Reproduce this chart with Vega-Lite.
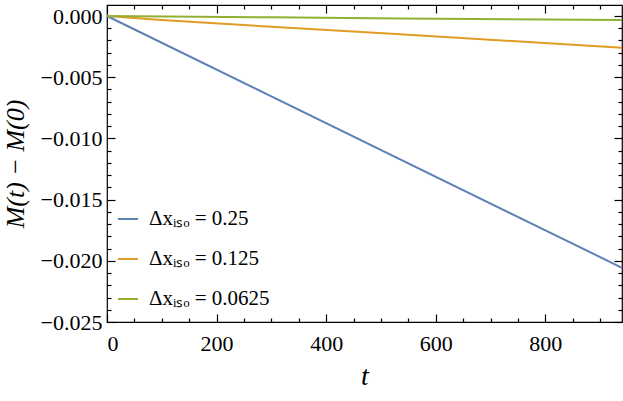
{
  "$schema": "https://vega.github.io/schema/vega-lite/v6.json",
  "width": 515,
  "height": 317,
  "autosize": {"type": "none"},
  "padding": {"left": 107, "top": 5, "right": 1, "bottom": 79},
  "background": "white",
  "config": {
    "view": {"stroke": "black", "strokeWidth": 1.2}
  },
  "data": {
    "values": [
      {"t": 0, "dm": 0, "s": "Δxᵢₛₒ = 0.25"},
      {"t": 940, "dm": -0.02057, "s": "Δxᵢₛₒ = 0.25"},
      {"t": 0, "dm": 0, "s": "Δxᵢₛₒ = 0.125"},
      {"t": 100, "dm": -0.00032, "s": "Δxᵢₛₒ = 0.125"},
      {"t": 300, "dm": -0.00088, "s": "Δxᵢₛₒ = 0.125"},
      {"t": 535, "dm": -0.00148, "s": "Δxᵢₛₒ = 0.125"},
      {"t": 940, "dm": -0.0026, "s": "Δxᵢₛₒ = 0.125"},
      {"t": 0, "dm": 0, "s": "Δxᵢₛₒ = 0.0625"},
      {"t": 300, "dm": -0.00011, "s": "Δxᵢₛₒ = 0.0625"},
      {"t": 535, "dm": -0.0002, "s": "Δxᵢₛₒ = 0.0625"},
      {"t": 940, "dm": -0.00033, "s": "Δxᵢₛₒ = 0.0625"}
    ]
  },
  "layer": [
    {
      "mark": {"type": "line", "strokeWidth": 2},
      "encoding": {
        "x": {
          "field": "t", "type": "quantitative",
          "scale": {"domain": [0, 940], "nice": false},
          "axis": {
            "orient": "bottom",
            "title": "t",
            "titleFont": "Liberation Serif",
            "titleFontStyle": "italic",
            "titleFontSize": 28,
            "titleFontWeight": 400,
            "titlePadding": 8,
            "values": [0, 200, 400, 600, 800],
            "format": "d",
            "labelFont": "Liberation Serif",
            "labelFontSize": 22,
            "labelPadding": 19,
            "tickSize": -8,
            "tickWidth": 1.2,
            "tickColor": "black",
            "domain": false,
            "grid": true,
            "gridOpacity": 0
          }
        },
        "y": {
          "field": "dm", "type": "quantitative",
          "scale": {"domain": [-0.025, 0.0009], "nice": false},
          "axis": {
            "orient": "left",
            "title": "M(t) − M(0)",
            "titleFont": "Liberation Serif",
            "titleFontStyle": "italic",
            "titleFontSize": 26,
            "titleFontWeight": 400,
            "titlePadding": 12,
            "values": [-0.025, -0.02, -0.015, -0.01, -0.005, 0],
            "format": ".3f",
            "labelFont": "Liberation Serif",
            "labelFontSize": 22,
            "labelPadding": 13,
            "tickSize": -8,
            "tickWidth": 1.2,
            "tickColor": "black",
            "domain": false,
            "grid": true,
            "gridOpacity": 0
          }
        },
        "color": {
          "field": "s", "type": "nominal",
          "scale": {
            "domain": ["Δxᵢₛₒ = 0.25", "Δxᵢₛₒ = 0.125", "Δxᵢₛₒ = 0.0625"],
            "range": ["#5E81B5", "#E19C24", "#8FB032"]
          },
          "legend": {
            "orient": "none",
            "legendX": 10,
            "legendY": 203,
            "title": "",
            "symbolType": "stroke",
            "symbolSize": 400,
            "symbolStrokeWidth": 2,
            "labelFont": "Liberation Serif",
            "labelFontSize": 21,
            "labelOffset": 10,
            "rowPadding": 19
          }
        }
      }
    },
    {
      "mark": {"type": "point", "opacity": 0},
      "encoding": {
        "x": {"field": "t", "type": "quantitative",
          "axis": {"orient": "top", "title": null, "labels": false, "values": [0, 200, 400, 600, 800], "tickSize": -8, "tickWidth": 1.2, "tickColor": "black", "domain": false, "grid": false}},
        "y": {"field": "dm", "type": "quantitative",
          "axis": {"orient": "right", "title": null, "labels": false, "values": [-0.025, -0.02, -0.015, -0.01, -0.005, 0], "tickSize": -8, "tickWidth": 1.2, "tickColor": "black", "domain": false, "grid": false}}
      }
    },
    {
      "mark": {"type": "point", "opacity": 0},
      "encoding": {
        "x": {"field": "t", "type": "quantitative",
          "axis": {"orient": "bottom", "title": null, "labels": false, "values": [50,100,150,250,300,350,450,500,550,650,700,750,850,900], "tickSize": -4, "tickWidth": 1.2, "tickColor": "black", "domain": false, "grid": false}},
        "y": {"field": "dm", "type": "quantitative",
          "axis": {"orient": "left", "title": null, "labels": false, "values": [-0.024,-0.023,-0.022,-0.021,-0.019,-0.018,-0.017,-0.016,-0.014,-0.013,-0.012,-0.011,-0.009,-0.008,-0.007,-0.006,-0.004,-0.003,-0.002,-0.001], "tickSize": -4, "tickWidth": 1.2, "tickColor": "black", "domain": false, "grid": false}}
      }
    },
    {
      "mark": {"type": "point", "opacity": 0},
      "encoding": {
        "x": {"field": "t", "type": "quantitative",
          "axis": {"orient": "top", "title": null, "labels": false, "values": [50,100,150,250,300,350,450,500,550,650,700,750,850,900], "tickSize": -4, "tickWidth": 1.2, "tickColor": "black", "domain": false, "grid": false}},
        "y": {"field": "dm", "type": "quantitative",
          "axis": {"orient": "right", "title": null, "labels": false, "values": [-0.024,-0.023,-0.022,-0.021,-0.019,-0.018,-0.017,-0.016,-0.014,-0.013,-0.012,-0.011,-0.009,-0.008,-0.007,-0.006,-0.004,-0.003,-0.002,-0.001], "tickSize": -4, "tickWidth": 1.2, "tickColor": "black", "domain": false, "grid": false}}
      }
    }
  ],
  "resolve": {"axis": {"x": "independent", "y": "independent"}}
}
